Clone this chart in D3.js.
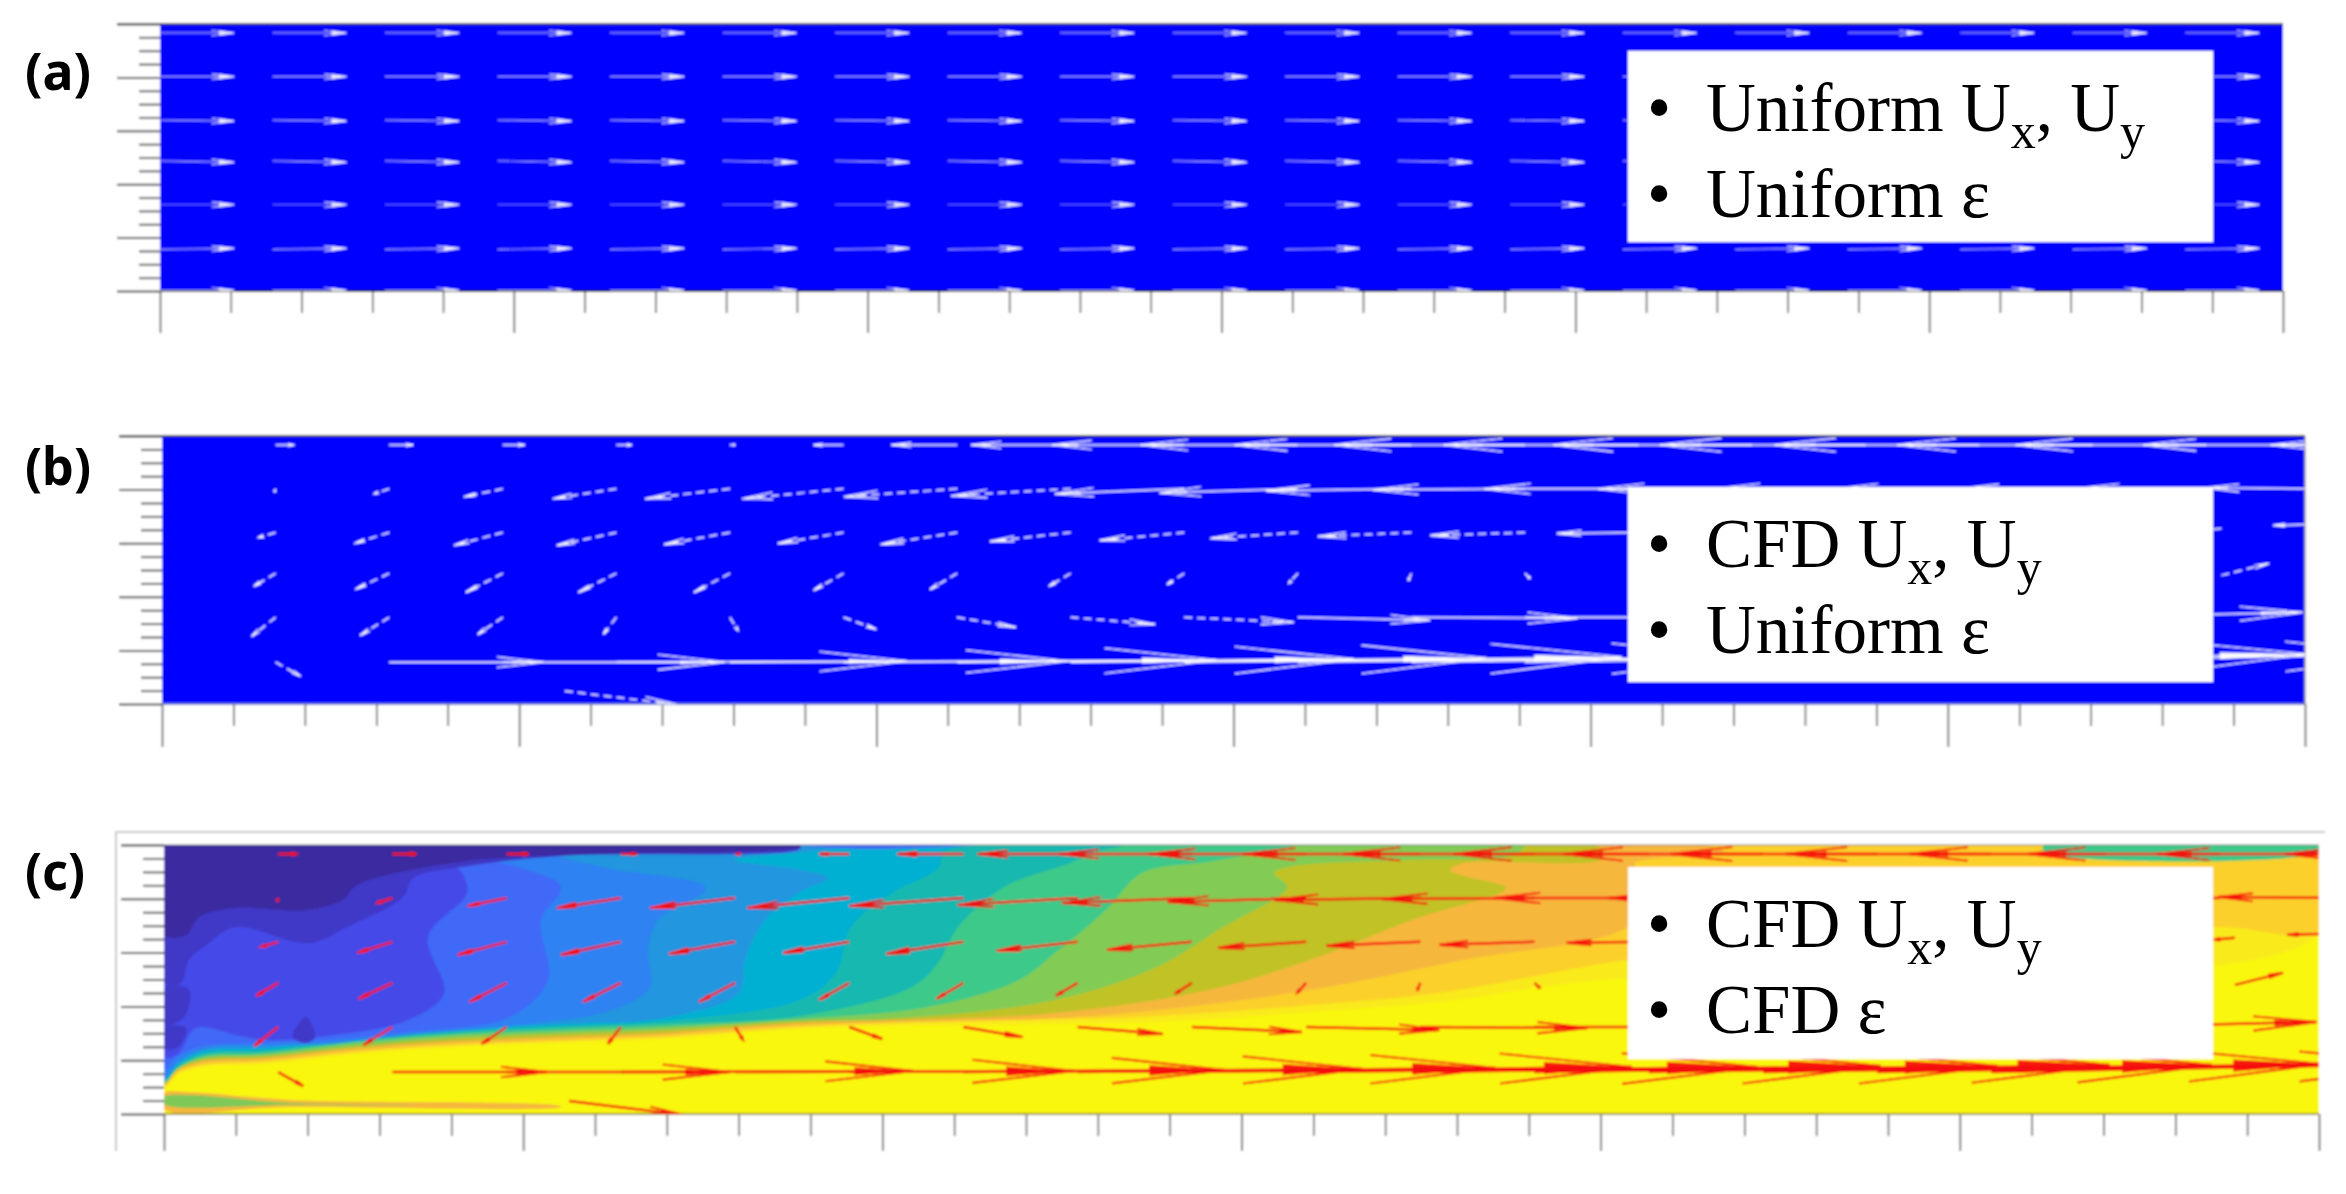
<!DOCTYPE html>
<html>
<head>
<meta charset="utf-8">
<script src="https://cdn.jsdelivr.net/npm/d3@7/dist/d3.min.js"></script>
<style>
html,body{margin:0;padding:0;background:#fff;overflow:hidden}
svg{display:block}
</style>
</head>
<body>
<script>
// ---------- data ----------
const panelLetters = ["(a)", "(b)", "(c)"];
const legendLine1 = [["Uniform U", "x", ", U", "y"], ["CFD U", "x", ", U", "y"], ["CFD U", "x", ", U", "y"]];
const legendLine2 = ["Uniform ε", "Uniform ε", "CFD ε"];

// quiver grid (axis units)
const columnStep = 1.59;
const rowY = [19.33, 16.06, 12.8, 9.75, 6.47, 3.12];
const uniformRowY = [19.33, 16.06, 12.8, 9.75, 6.47, 3.12, 0.05];

// uniform field of panel (a)
const uniformU = 75;
const uniformRowV = [0, 0, 1, 1.5, 0, -1, 0];
const uniformColumns = [0,1,2,3,4,5,6,7,8,9,10,11,12,13,14,15,16,17,18];

// CFD velocity per row, starting at column 1
const u0 = [18,24,22,15,5,-30,-66,-100,-133,-158,-178,-192,-196,-200,-207,-206,-197,-192,-178,-164];
const v0 = [0,0,0,0,0,0,0,0,0,0,0,0,0,0,0,0,0,0,0,0];
const u1 = [-1,-15,-39,-64,-85,-102,-114,-120,-130,-139,-146,-153,-155,-155,-152,-145,-135,-125,-116];
const v1 = [3,5,8,10,10,10,8,7,5,4,2,1,0,0,0,0,0,-1,-1];
const u2 = [-17,-35,-49,-60,-66,-66,-77,-81,-85,-88,-94,-95,-82,-80,-75,-70,-60];
const v2 = [5,11,13,13,12,11,12,9,8,6,4,3,1,1,1,1,1];
const u3 = [-22,-34,-37,-38,-36,-30,-27,-22,-17,-9,-3,5,15,25];
const v3 = [13,16,19,19,19,17,16,13,11,10,7,5,3,2];
const u4 = [-24,-29,-25,-13,8,33,59,85,110,133,167,180,190,195,200,205,211];
const v4 = [19,18,17,17,13,12,10,7,5,3,1,0,-1,-2,-3,-4,-5];
const u5 = [25,155,223,292,339,375,399,418,440,451,460,463,461,449,445,440];
const v5 = [14,0,0,-1,-1,-2,-3,-4,-5,-5,-6,-6,-7,-7,-8,-8];
const rowsU = [u0,u1,u2,u3,u4,u5];
const rowsV = [v0,v1,v2,v3,v4,v5];
// arrows off the regular rows: [x, y, u, v]
const extraArrows = [[5.64,0.97,115,14],[28.83,9.6,48,-12],[28.83,13.1,-21,2],[30.1,13.4,-39,1]];

// filled contour levels of panel (c), lowest level last: colour list + outlines [distance, height]
const levelColors = ["#f9ea1c","#fbd02a","#f6b73c","#c1c228","#82cc55","#3ec98a","#15b8b0","#05b0d2","#2196de","#2d82f2","#4169f7","#4548e8","#4037c6","#3b2ba0"];
const level13 = [[0,269],[2155,269],[2155,180],[1436,134],[1274,112],[1146,102],[993,92],[866,90],[738,88],[636,85],[499,75],[397,71],[295,67],[193,60],[101,50],[40,47],[14,39],[0,27]];
const level12 = [[0,269],[2155,269],[2155,184],[2050,187],[1464,154],[1436,150],[1274,121],[1146,109],[993,98],[866,94],[738,91],[636,87],[499,77],[397,73],[295,69],[193,62],[101,52],[40,49],[14,41],[0,28]];
const level11 = [[0,269],[1540,269],[1560,262],[1470,250],[1500,230],[1464,187],[1299,154],[1146,124],[993,104],[891,96],[738,92],[636,89],[499,79],[397,75],[295,71],[193,64],[101,54],[40,51],[14,43],[0,29]];
const level10 = [[0,269],[1430,269],[1440,262],[1436,254],[1300,251],[1286,244],[1300,238],[1342,226],[1248,194],[1146,154],[1044,124],[891,101],[738,94],[636,91],[499,81],[397,77],[295,73],[193,66],[101,56],[40,53],[14,44],[0,30]];
const level9 = [[0,269],[1360,269],[1350,259],[1250,254],[1130,248],[1110,241],[1123,227],[1059,187],[993,147],[891,114],[738,96],[636,93],[499,84],[397,80],[295,76],[193,68],[101,58],[40,55],[14,45],[0,31]];
const level8 = [[0,269],[1130,269],[1100,262],[1044,252],[978,241],[942,204],[891,161],[855,134],[764,107],[636,95],[499,87],[397,83],[295,79],[193,71],[101,60],[40,57],[14,46],[0,32]];
const level7 = [[0,269],[960,269],[930,262],[906,251],[840,227],[794,187],[774,151],[748,127],[636,98],[499,90],[397,86],[295,81],[193,73],[101,62],[40,59],[14,47],[0,33]];
const level6 = [[0,269],[800,269],[780,262],[774,246],[728,221],[687,187],[672,141],[636,114],[499,93],[397,88],[295,83],[193,75],[101,64],[40,61],[14,48],[0,34]];
const level5 = [[0,269],[700,269],[640,262],[570,254],[636,244],[664,236],[636,222],[601,194],[581,154],[575,121],[499,96],[397,90],[295,85],[193,77],[101,66],[40,63],[14,50],[0,35]];
const level4 = [[0,269],[620,269],[500,263],[397,258],[443,246],[542,226],[494,194],[484,161],[486,127],[448,104],[346,88],[244,79],[162,70],[101,68],[40,65],[14,52],[0,36]];
const level3 = [[0,269],[480,269],[400,263],[320,256],[364,244],[397,227],[377,194],[384,134],[346,97],[244,82],[162,74],[101,71],[40,68],[14,58],[0,45]];
const level2 = [[0,269],[400,269],[300,262],[290,250],[298,241],[303,221],[264,177],[280,121],[244,94],[162,78],[101,74],[76,78],[32,86],[14,60],[0,57]];
const level1 = [[0,269],[636,269],[636,265],[397,258],[298,247],[249,236],[239,217],[183,187],[145,171],[71,187],[45,171],[25,154],[17,131],[0,131]];
const level0 = [[0,269],[636,269],[636,267],[397,259],[295,252],[193,229],[178,214],[142,204],[71,206],[35,197],[22,179],[0,179]];
const levels = [level13,level12,level11,level10,level9,level8,level7,level6,level5,level4,level3,level2,level1,level0];
// small closed islands: [colour, outline]
const islands = [
  ["#4037c6", [[0,126],[25,124],[20,97],[0,89]]],
  ["#4037c6", [[0,86],[22,86],[14,67],[0,66]]],
  ["#4037c6", [[142,97],[151,77],[142,71],[129,77]]],
  ["#f6b73c", [[0,21],[25,22],[127,14],[397,8],[397,7],[127,7],[0,5]]],
  ["#7ec958", [[0,17],[25,19],[127,11],[250,9],[127,9],[0,10]]],
  ["#3ec98a", [[1880,269],[2155,269],[2155,262],[1880,262]]],
  ["#4169f7", [[636,269],[814,269],[700,265]]]
];

// ---------- layout ----------
const W = 2346, H = 1194;
const majorX = d3.range(0, 31, 5), minorX = d3.range(0, 31).filter(d => d % 5);
const majorY = d3.range(0, 21, 4), minorY = d3.range(0, 21).filter(d => d % 4);

const svg = d3.select("body").append("svg").attr("width", W).attr("height", H)
  .style("font-family", "'Liberation Serif'");
const defs = svg.append("defs");
const addBlur = (id, sd) => defs.append("filter").attr("id",id).attr("filterUnits","userSpaceOnUse")
  .attr("x",0).attr("y",0).attr("width",W).attr("height",H)
  .append("feGaussianBlur").attr("stdDeviation",sd);
addBlur("soft", 0.85);
addBlur("softText", 0.5);
const root = svg.append("g").attr("filter","url(#soft)");
root.append("rect").attr("width",W).attr("height",H).attr("fill","#fff");
const textLayer = svg.append("g").attr("filter","url(#softText)");

const layouts = [
  {x0:160, x1:2283, y0:24,  y1:291,  leg:51,  legB:242, lab:90,  tick:[22,42], fill:"#0000ff"},
  {x0:162, x1:2305, y0:436, y1:704,  leg:487, legB:682, lab:485, tick:[22,43], fill:"#0000ff"},
  {x0:164, x1:2319, y0:845, y1:1114, leg:867, legB:1059,lab:890, tick:[22,37], fill:"#f9f711"}
];

function arrow(g, tx, ty, dx, dy, color, opt) {
  const L = Math.hypot(dx, dy);
  if (L < 0.1) return;
  const ux = dx / L, uy = dy / L, nx = -uy, ny = ux;
  const hx = tx + dx, hy = ty + dy;
  const back = 0.3 * L, hw = Math.max(1.4, 0.034 * L);
  const inner = 0.2 * L, iw = Math.max(1.1, opt.inner * L);
  const oblique = opt.dash && Math.abs(dy) > 2 && L < 120;
  g.append("line").attr("x1",tx).attr("y1",ty).attr("x2",hx).attr("y2",hy)
    .attr("stroke",color).attr("stroke-width",opt.shaft).attr("stroke-opacity",opt.alpha)
    .attr("stroke-dasharray", oblique ? "8 5" : null);
  const bp = d3.path();
  bp.moveTo(hx - ux*back + nx*hw, hy - uy*back + ny*hw);
  bp.lineTo(hx, hy);
  bp.lineTo(hx - ux*back - nx*hw, hy - uy*back - ny*hw);
  g.append("path").attr("d",bp.toString()).attr("fill","none")
    .attr("stroke",color).attr("stroke-width",opt.barb).attr("stroke-opacity",opt.barbAlpha);
  const tp = d3.path();
  tp.moveTo(hx, hy);
  tp.lineTo(hx - ux*inner + nx*iw, hy - uy*inner + ny*iw);
  tp.lineTo(hx - ux*inner - nx*iw, hy - uy*inner - ny*iw);
  tp.closePath();
  g.append("path").attr("d",tp.toString()).attr("fill",color).attr("fill-opacity",opt.barbAlpha);
}

layouts.forEach((p, i) => {
  const x = d3.scaleLinear().domain([0,30]).range([p.x0,p.x1]);
  const y = d3.scaleLinear().domain([0,20]).range([p.y1,p.y0]);
  const k = (p.x1 - p.x0) / 2155;
  const sx = d3.scaleLinear().domain([0,2155]).range([p.x0,p.x1]);
  const sy = d3.scaleLinear().domain([0,269]).range([p.y1,p.y0]);
  const su = d3.scaleLinear().domain([0,500]).range([0,500*k]);
  const sv = d3.scaleLinear().domain([0,100]).range([0,100]);
  const clipId = "clip"+i;
  defs.append("clipPath").attr("id",clipId).append("rect")
    .attr("x",p.x0).attr("y",p.y0).attr("width",p.x1-p.x0).attr("height",p.y1-p.y0);

  const g = root.append("g");
  // frame of panel (c)
  if (i === 2) {
    g.append("path").attr("fill","none").attr("stroke","#c6c6c6").attr("stroke-width",2)
      .attr("d", d3.line()([[116,1151],[116,832],[2325,832]]));
  }
  // axes
  const drawAxis = (axis, at, cls, sw) => {
    const a = g.append("g").attr("transform",at).call(axis);
    a.select(".domain").remove();
    a.selectAll("line").attr("stroke", cls).attr("stroke-width", sw);
  };
  drawAxis(d3.axisBottom(x).tickValues(minorX).tickSize(p.tick[0]).tickFormat(""), `translate(0,${p.y1})`, "#5a5a5a", 1.6);
  drawAxis(d3.axisBottom(x).tickValues(majorX).tickSize(p.tick[1]).tickFormat(""), `translate(0,${p.y1})`, "#4a4a4a", 1.6);
  drawAxis(d3.axisLeft(y).tickValues(minorY).tickSize(21).tickFormat(""), `translate(${p.x0},0)`, "#5a5a5a", 2);
  drawAxis(d3.axisLeft(y).tickValues(majorY).tickSize(43).tickFormat(""), `translate(${p.x0},0)`, "#4a4a4a", 2);

  // field
  const field = g.append("g").attr("clip-path",`url(#${clipId})`);
  field.append("rect").attr("x",p.x0).attr("y",p.y0).attr("width",p.x1-p.x0).attr("height",p.y1-p.y0).attr("fill",p.fill);
  if (i === 2) {
    const outline = d3.line().x(d=>sx(d[0])).y(d=>sy(d[1])).curve(d3.curveCatmullRomClosed.alpha(0.5));
    field.selectAll("path.level").data(levels).join("path").attr("class","level")
      .attr("d",outline).attr("fill",(d,j)=>levelColors[j]);
    field.selectAll("path.island").data(islands).join("path").attr("class","island")
      .attr("d",d=>outline(d[1])).attr("fill",d=>d[0]);
  }
  // edges
  g.append("line").attr("x1",p.x0-43).attr("x2",p.x1).attr("y1",p.y0).attr("y2",p.y0).attr("stroke","#444").attr("stroke-width",i===2?0.6:2);
  g.append("line").attr("x1",p.x0).attr("x2",p.x1).attr("y1",p.y1).attr("y2",p.y1)
    .attr("stroke", i===0 ? "#1a1a1a" : i===1 ? "#6e7ad0" : "#9c9a2a").attr("stroke-width",1.8);
  g.append("line").attr("x1",p.x1).attr("x2",p.x1).attr("y1",p.y0).attr("y2",p.y1).attr("stroke","#9a9a9a").attr("stroke-width",i===1?1.5:0);

  // arrows
  const quiver = g.append("g").attr("clip-path",`url(#${clipId})`);
  if (i === 0) {
    uniformRowY.forEach((ry, r) => uniformColumns.forEach(c => {
      arrow(quiver, x(c*columnStep), y(ry), su(uniformU), sv(uniformRowV[r]), "#ffffff",
        {shaft:1.2, barb:1.1, alpha: r===4 ? 0.35 : 0.6, barbAlpha:0.8, inner:0.035});
    }));
  } else {
    const color = i === 1 ? "#ffffff" : "#f5100a";
    const opt = i === 1
      ? {shaft:1.5, barb:1.3, alpha:0.95, barbAlpha:0.95, dash:true, inner:0.008}
      : {shaft:2.5, barb:2.1, alpha:1, barbAlpha:0.95, inner:0.014};
    rowY.forEach((ry, r) => rowsU[r].forEach((u, c) => {
      arrow(quiver, x((c+1)*columnStep), y(ry), su(u), sv(rowsV[r][c]), color, opt);
    }));
    extraArrows.forEach(d => arrow(quiver, x(d[0]), y(d[1]), su(d[2]), sv(d[3]), color, opt));
  }

  // legend box and text
  g.append("rect").attr("x",1628).attr("y",p.leg).attr("width",585).attr("height",p.legB-p.leg).attr("fill","#fff");
  const txt = textLayer.append("g").attr("font-size",69).attr("fill","#000");
  [0,1].forEach(l => {
    const base = p.leg + (l === 0 ? 80 : 166);
    txt.append("text").attr("x",1659).attr("y",base).attr("text-anchor","middle").text("•");
    const t = txt.append("text").attr("x",1706).attr("y",base);
    if (l === 0) {
      const parts = legendLine1[i];
      t.append("tspan").text(parts[0]);
      t.append("tspan").attr("font-size",50).attr("dy",17).text(parts[1]);
      t.append("tspan").attr("dy",-17).text(parts[2]);
      t.append("tspan").attr("font-size",50).attr("dy",17).text(parts[3]);
    } else {
      t.text(legendLine2[i]);
    }
  });

  // panel letter
  textLayer.append("text").attr("x",25).attr("y",p.lab)
    .attr("font-family","'Noto Sans'").attr("font-weight",700).attr("font-size",52)
    .attr("textLength",i===2?60:66).attr("lengthAdjust","spacingAndGlyphs")
    .attr("fill","#000").text(panelLetters[i]);
});
</script>
</body>
</html>
